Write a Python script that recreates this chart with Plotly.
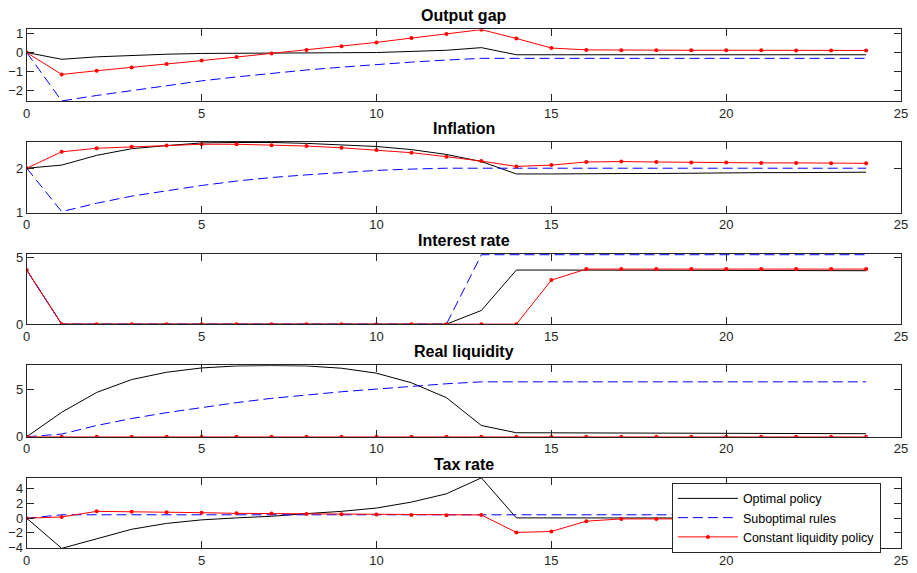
import plotly.graph_objects as go

periods = list(range(25))

titles = ["Output gap", "Inflation", "Interest rate", "Real liquidity", "Tax rate"]
series_names = ["Optimal policy", "Suboptimal rules", "Constant liquidity policy"]

output_opt = [0, -0.36, -0.23, -0.14, -0.09, -0.05, -0.03, -0.02, -0.01, -0.01, 0.0, 0.05, 0.12, 0.26,
              -0.12, -0.12, -0.12, -0.12, -0.12, -0.12, -0.12, -0.12, -0.12, -0.12, -0.12]
output_sub = [0, -2.58, -2.29, -2.02, -1.77, -1.51, -1.3, -1.1, -0.93, -0.78, -0.64, -0.51, -0.40, -0.31,
              -0.31, -0.31, -0.31, -0.31, -0.31, -0.31, -0.31, -0.31, -0.31, -0.31, -0.31]
output_cl = [0, -1.17, -0.97, -0.80, -0.61, -0.43, -0.24, -0.05, 0.14, 0.33, 0.54, 0.77, 0.99, 1.22,
             0.75, 0.24, 0.14, 0.12, 0.12, 0.12, 0.12, 0.12, 0.11, 0.11, 0.11]

inflation_opt = [2.0, 2.07, 2.29, 2.44, 2.51, 2.57, 2.58, 2.58, 2.56, 2.53, 2.49, 2.42, 2.31, 2.15,
                 1.87, 1.87, 1.88, 1.88, 1.88, 1.89, 1.89, 1.90, 1.90, 1.91, 1.91]
inflation_sub = [2.0, 1.02, 1.21, 1.37, 1.49, 1.61, 1.71, 1.79, 1.85, 1.90, 1.95, 1.98, 2.0, 2.0,
                 2.0, 2.0, 2.0, 2.0, 2.0, 2.0, 2.0, 2.0, 2.0, 2.0, 2.0]
inflation_cl = [2.0, 2.37, 2.45, 2.485, 2.51, 2.54, 2.54, 2.52, 2.50, 2.46, 2.41, 2.35, 2.26, 2.16,
                2.04, 2.07, 2.14, 2.15, 2.14, 2.13, 2.13, 2.12, 2.12, 2.11, 2.11]

interest_opt = [4.03, 0, 0, 0, 0, 0, 0, 0, 0, 0, 0, 0, 0, 1.02,
                4.03, 4.03, 4.02, 4.02, 4.01, 4.01, 4.0, 4.0, 3.99, 3.99, 3.98]
interest_sub = [4.03, 0, 0, 0, 0, 0, 0, 0, 0, 0, 0, 0, 0, 5.17,
                5.17, 5.17, 5.17, 5.17, 5.17, 5.17, 5.17, 5.17, 5.17, 5.17, 5.17]
interest_cl = [4.03, 0, 0, 0, 0, 0, 0, 0, 0, 0, 0, 0, 0, 0,
               0, 3.28, 4.10, 4.10, 4.10, 4.10, 4.10, 4.10, 4.10, 4.10, 4.10]

liquidity_opt = [0, 2.57, 4.65, 6.0, 6.77, 7.22, 7.43, 7.47, 7.43, 7.19, 6.67, 5.66, 4.10, 1.18,
                 0.42, 0.41, 0.40, 0.39, 0.38, 0.37, 0.36, 0.35, 0.34, 0.33, 0.32]
liquidity_sub = [0, 0.28, 1.18, 1.91, 2.53, 3.09, 3.58, 4.03, 4.38, 4.72, 5.0, 5.31, 5.56, 5.76,
                 5.76, 5.76, 5.76, 5.76, 5.76, 5.76, 5.76, 5.76, 5.76, 5.76, 5.76]
liquidity_cl = [0, 0, 0, 0, 0, 0, 0, 0, 0, 0, 0, 0, 0, 0,
                0, 0, 0, 0, 0, 0, 0, 0, 0, 0, 0]

tax_opt = [0, -4.1, -2.8, -1.5, -0.7, -0.22, 0.05, 0.27, 0.63, 0.94, 1.39, 2.2, 3.33, 5.5,
           0.05, 0.05, 0.05, 0.05, 0.04, 0.04, 0.03, 0.03, 0.02, 0.02, 0.02]
tax_sub = [0, 0.47, 0.47, 0.47, 0.47, 0.47, 0.47, 0.47, 0.47, 0.47, 0.47, 0.47, 0.47, 0.47,
           0.47, 0.47, 0.47, 0.47, 0.47, 0.47, 0.47, 0.47, 0.47, 0.47, 0.47]
tax_cl = [0, 0.18, 0.94, 0.9, 0.81, 0.76, 0.67, 0.63, 0.58, 0.54, 0.5, 0.45, 0.4, 0.45,
          -1.93, -1.8, -0.4, -0.09, -0.09, -0.06, -0.04, -0.03, -0.02, -0.02, -0.01]

panels = [
    (output_opt, output_sub, output_cl),
    (inflation_opt, inflation_sub, inflation_cl),
    (interest_opt, interest_sub, interest_cl),
    (liquidity_opt, liquidity_sub, liquidity_cl),
    (tax_opt, tax_sub, tax_cl),
]

y_ranges = [[-2.58, 1.23], [1.0, 2.59], [0, 5.25], [0, 7.5], [-4.1, 5.5]]
y_ticks = [[-2, -1, 0, 1], [1, 2], [0, 5], [0, 5], [-4, -2, 0, 2, 4]]
x_ticks = [0, 5, 10, 15, 20, 25]

W, H = 917, 573
x_dom = [23 / W, 908 / W]
pix_tops = [26, 141, 255, 369, 484]
pix_bots = [99, 213, 327, 442, 556]

fig = go.Figure()
axis_color = "#262626"
font_family = "Liberation Sans, Arial, Helvetica, sans-serif"

for i, (opt, sub, cl) in enumerate(panels):
    n = i + 1
    xa = "x" if n == 1 else f"x{n}"
    ya = "y" if n == 1 else f"y{n}"
    show = (n == 5)
    fig.add_trace(go.Scatter(x=periods, y=opt, mode="lines", name=series_names[0],
                             line=dict(color="black", width=1), xaxis=xa, yaxis=ya,
                             showlegend=show))
    fig.add_trace(go.Scatter(x=periods, y=sub, mode="lines", name=series_names[1],
                             line=dict(color="#0000ff", width=1, dash="10px,5px"), xaxis=xa, yaxis=ya,
                             showlegend=show))
    fig.add_trace(go.Scatter(x=periods, y=cl, mode="lines+markers", name=series_names[2],
                             line=dict(color="red", width=1), marker=dict(color="red", size=4),
                             xaxis=xa, yaxis=ya, showlegend=show))

    dom_y = [1 - pix_bots[i] / H, 1 - pix_tops[i] / H]
    common = dict(showline=True, linecolor=axis_color, linewidth=1, mirror="allticks",
                  ticks="inside", ticklen=7, tickcolor=axis_color, showgrid=False, zeroline=False,
                  tickfont=dict(family=font_family, size=13, color=axis_color))
    fig.layout[f"xaxis{'' if n == 1 else n}"] = dict(domain=x_dom, range=[0, 25], tickvals=x_ticks,
                                                     anchor=ya, **common)
    fig.layout[f"yaxis{'' if n == 1 else n}"] = dict(domain=dom_y, range=y_ranges[i], tickvals=y_ticks[i],
                                                     anchor=xa, **common)
    fig.add_annotation(text=f"<b>{titles[i]}</b>", x=(x_dom[0] + x_dom[1]) / 2, y=dom_y[1],
                       xref="paper", yref="paper", xanchor="center", yanchor="bottom",
                       showarrow=False, yshift=3,
                       font=dict(family=font_family, size=16, color="black"))

fig.update_layout(
    width=W, height=H,
    margin=dict(l=0, r=0, t=0, b=0),
    paper_bgcolor="white", plot_bgcolor="white",
    font=dict(family=font_family, color=axis_color),
    legend=dict(x=676 / W, y=1 - 489 / H, xanchor="left", yanchor="top",
                bgcolor="white", bordercolor=axis_color, borderwidth=1,
                font=dict(family=font_family, size=12.5, color="black"),
                tracegroupgap=0, itemwidth=60, traceorder="normal"),
)

fig.write_html("out.html")
